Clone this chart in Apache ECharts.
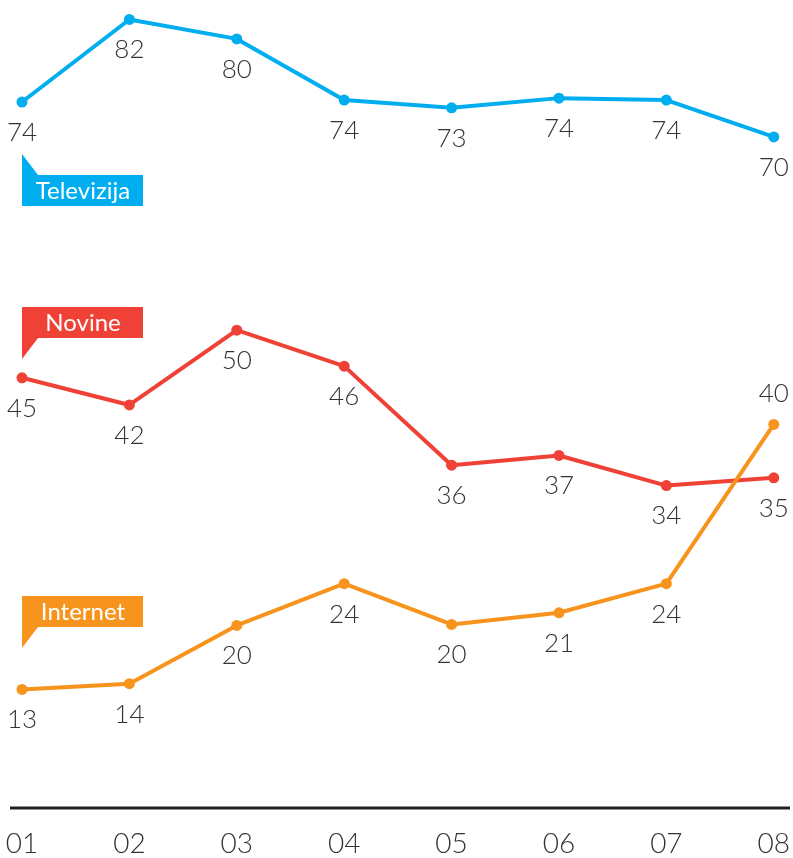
<!DOCTYPE html>
<html>
<head>
<meta charset="utf-8">
<script src="https://cdn.jsdelivr.net/npm/echarts@6/dist/echarts.min.js"></script>
<style>
  html, body { margin: 0; padding: 0; background: #fff; }
  #chart { width: 793px; height: 858px; }
</style>
</head>
<body>
<div id="chart"></div>
<script>
const years = ['01', '02', '03', '04', '05', '06', '07', '08']
// plotted values (labels show them rounded)
const televizija = [73.5, 82.0, 80.0, 73.7, 72.9, 73.9, 73.7, 69.9]
const novine = [45.1, 42.3, 50.0, 46.3, 36.1, 37.1, 34.0, 34.8]
const internet = [13.0, 13.6, 19.6, 23.9, 19.7, 20.9, 23.9, 40.3]

const BLUE = '#00aeef'
const RED = '#ef4136'
const ORANGE = '#f7941d'
const FONT = 'Lato'

const chart = echarts.init(document.getElementById('chart'))

function lineSeries(name, data, color, labelPos) {
  return {
    name: name,
    type: 'line',
    data: data,
    symbol: 'circle',
    symbolSize: 11,
    lineStyle: { width: 4, color: color },
    itemStyle: { color: color },
    label: {
      show: true,
      position: labelPos || 'bottom',
      distance: 12,
      fontFamily: FONT,
      fontWeight: 300,
      fontSize: 26,
      color: '#333',
      formatter: (p) => Math.round(p.value),
    },
    animation: false,
  }
}

// flag shaped tag; pointUp puts the little triangle above the box
function tag(text, color, top, pointUp) {
  const tri = pointUp
    ? [[22, top - 21], [22, top], [38, top]]
    : [[22, top + 31], [22, top + 52], [38, top + 31]]
  return [
    { type: 'polygon', shape: { points: tri }, style: { fill: color } },
    { type: 'rect', shape: { x: 22, y: top, width: 121, height: 31 }, style: { fill: color } },
    {
      type: 'text',
      x: 83,
      y: top + 16,
      style: {
        text: text,
        fill: '#fff',
        font: '24px ' + FONT,
        align: 'center',
        verticalAlign: 'middle',
      },
    },
  ]
}

const tvSeries = lineSeries('Televizija', televizija, BLUE)
const novSeries = lineSeries('Novine', novine, RED)
const netSeries = lineSeries('Internet', internet, ORANGE)
// last internet label sits above its point
netSeries.data = internet.map((v, i) =>
  i === internet.length - 1 ? { value: v, label: { position: 'top' } } : v
)

chart.setOption({
  backgroundColor: '#fff',
  grid: {
    top: 2,
    left: 22,
    right: 14,
    bottom: 46,
  },
  xAxis: {
    type: 'category',
    boundaryGap: false,
    data: years,
    axisLine: { show: false },
    axisTick: { show: false },
    axisLabel: {
      margin: 24,
      fontFamily: FONT,
      fontWeight: 300,
      fontSize: 28,
      color: '#333',
    },
  },
  yAxis: {
    type: 'value',
    min: 1,
    max: 83.8,
    show: false,
  },
  graphic: [
    {
      type: 'line',
      shape: { x1: 10, y1: 808, x2: 790, y2: 808 },
      style: { stroke: '#222', lineWidth: 3 },
    },
    ...tag('Televizija', BLUE, 175, true),
    ...tag('Novine', RED, 307, false),
    ...tag('Internet', ORANGE, 596, false),
  ],
  series: [tvSeries, novSeries, netSeries],
})
</script>
</body>
</html>
